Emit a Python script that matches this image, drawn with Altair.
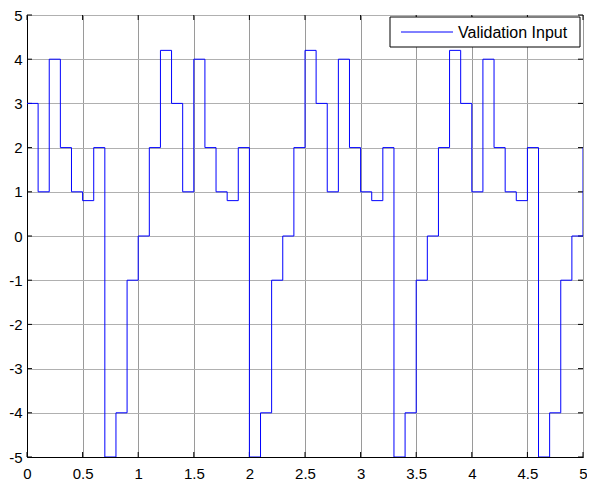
import altair as alt
import pandas as pd

# sampled input signal, one level every 0.1 s from t = 0 to t = 5
step = 0.1
levels = [3, 1, 4, 2, 1, 0.8, 2, -5, -4, -1, 0, 2, 4.2,
          3, 1, 4, 2, 1, 0.8, 2, -5, -4, -1, 0, 2, 4.2,
          3, 1, 4, 2, 1, 0.8, 2, -5, -4, -1, 0, 2, 4.2,
          3, 1, 4, 2, 1, 0.8, 2, -5, -4, -1, 0, 2]
series_name = "Validation Input"
x_ticks = [0, 0.5, 1, 1.5, 2, 2.5, 3, 3.5, 4, 4.5, 5]
y_ticks = [-5, -4, -3, -2, -1, 0, 1, 2, 3, 4, 5]

W, H = 556, 442
FONT = "Liberation Sans"
BLUE = "#0000ff"

df = pd.DataFrame({
    "t": [round(i * step, 2) for i in range(len(levels))],
    "v": levels,
})

xscale = alt.Scale(domain=[0, 5], nice=False, zero=False)
yscale = alt.Scale(domain=[-5, 5], nice=False, zero=False)

xaxis = alt.Axis(values=x_ticks, labelExpr="toString(datum.value)", title=None,
                 grid=True, ticks=False, tickSize=0, labelPadding=9,
                 labelFontSize=15, labelFont=FONT, labelColor="black",
                 domainColor="black", gridColor="#9a9a9a", labelFlush=False)
yaxis = alt.Axis(values=y_ticks, labelExpr="toString(datum.value)", title=None,
                 grid=True, ticks=False, tickSize=0, labelPadding=5,
                 labelFontSize=15, labelFont=FONT, labelColor="black",
                 domainColor="black", gridColor="#b0b0b0", labelFlush=False)

line = alt.Chart(df).mark_line(interpolate="step-after", strokeWidth=1, clip=True,
                               color=BLUE).encode(
    x=alt.X("t:Q", scale=xscale, axis=xaxis),
    y=alt.Y("v:Q", scale=yscale, axis=yaxis),
)

xt = pd.DataFrame({"t": x_ticks})
yt = pd.DataFrame({"v": y_ticks})

bottom_ticks = alt.Chart(xt).mark_rule(color="black", strokeWidth=1).encode(
    x=alt.X("t:Q", scale=xscale, axis=xaxis), y=alt.value(H), y2=alt.value(H - 5))
top_ticks = alt.Chart(xt).mark_rule(color="black", strokeWidth=1).encode(
    x=alt.X("t:Q", scale=xscale, axis=xaxis), y=alt.value(0), y2=alt.value(5))
left_ticks = alt.Chart(yt).mark_rule(color="black", strokeWidth=1).encode(
    y=alt.Y("v:Q", scale=yscale, axis=yaxis), x=alt.value(0), x2=alt.value(5))
right_ticks = alt.Chart(yt).mark_rule(color="black", strokeWidth=1).encode(
    y=alt.Y("v:Q", scale=yscale, axis=yaxis), x=alt.value(W - 5), x2=alt.value(W))

# legend box drawn by hand (MATLAB style)
leg = pd.DataFrame({"label": [series_name]})
legend_box = alt.Chart(leg).mark_rect(fill="white", stroke="black", strokeWidth=1).encode(
    x=alt.value(W - 193), x2=alt.value(W - 3), y=alt.value(2), y2=alt.value(32))
legend_line = alt.Chart(leg).mark_rule(color=BLUE, strokeWidth=1).encode(
    x=alt.value(W - 182), x2=alt.value(W - 130), y=alt.value(17))
legend_text = alt.Chart(leg).mark_text(align="left", baseline="middle", font=FONT,
                                       fontSize=16, color="black").encode(
    x=alt.value(W - 125), y=alt.value(17.5), text="label:N")

chart = alt.layer(bottom_ticks, top_ticks, left_ticks, right_ticks, line,
                  legend_box, legend_line, legend_text).properties(
    width=W, height=H,
    autosize=alt.AutoSizeParams(type="none"),
    padding={"left": 19, "top": 7, "right": 4, "bottom": 23},
    background="white",
).configure_view(stroke="black", strokeWidth=1)

chart.save("out.html", embed_options={"renderer": "svg", "actions": False})
